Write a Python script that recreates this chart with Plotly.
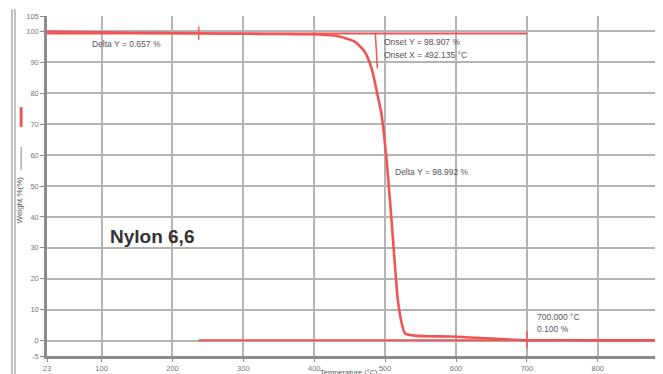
import plotly.graph_objects as go

# ---- data ----
temperature = [23, 60, 100, 150, 200, 237, 280, 330, 380, 407, 435, 457, 471, 481, 489,
               495, 502, 509, 518, 524, 528, 535, 542, 560, 591, 620, 648, 700, 760, 820, 892]
weight = [100.0, 99.8, 99.7, 99.6, 99.5, 99.4, 99.3, 99.2, 99.1, 99.0, 98.4, 96.7, 93.5, 88.0, 79.8,
          73.0, 58.6, 39.0, 13.0, 5.0, 2.3, 1.8, 1.6, 1.4, 1.3, 1.0, 0.65, 0.1, 0.08, 0.06, 0.05]

x_ticks = [23, 100, 200, 300, 400, 500, 600, 700, 800]
y_ticks = [-5, 0, 10, 20, 30, 40, 50, 60, 70, 80, 90, 100, 105]

# analysis markers (step limits / onset)
step1_end = 237
step2_end = 700
upper_level = 99.35
lower_level = 0.1
onset_x = 492.135
onset_y = 98.907

RED = "rgb(240,85,85)"
GRID = "#b4b4b4"
TXT = "#555555"
FONT = "Liberation Sans, Arial, sans-serif"

fig = go.Figure()
fig.add_trace(go.Scatter(x=temperature, y=weight, mode="lines",
                         line=dict(color=RED, width=2.6, shape="spline", smoothing=0.6),
                         hoverinfo="skip", showlegend=False))

shapes = [
    dict(type="line", xref="x", yref="y", x0=23, x1=step2_end, y0=upper_level, y1=upper_level,
         line=dict(color=RED, width=2)),
    dict(type="line", xref="x", yref="y", x0=step1_end, x1=892, y0=lower_level, y1=lower_level,
         line=dict(color=RED, width=2)),
    dict(type="line", xref="x", yref="y", x0=step1_end, x1=step1_end, y0=97.3, y1=101.6,
         line=dict(color=RED, width=1.5)),
    dict(type="line", xref="x", yref="y", x0=step2_end, x1=step2_end, y0=-2.5, y1=3.0,
         line=dict(color=RED, width=1.5)),
    dict(type="line", xref="x", yref="y", x0=onset_x - 6, x1=onset_x - 3, y0=upper_level, y1=88,
         line=dict(color=RED, width=1.5)),
    dict(type="line", xref="paper", yref="paper", x0=-0.042, x1=-0.042, y0=0.674, y1=0.732,
         line=dict(color=RED, width=3)),
    dict(type="line", xref="paper", yref="paper", x0=-0.042, x1=-0.042, y0=0.547, y1=0.615,
         line=dict(color="#888888", width=1)),
    dict(type="line", xref="paper", yref="paper", x0=-0.0568, x1=-0.0568, y0=-0.06, y1=1.02,
         line=dict(color="#9a9a9a", width=1.2)),
    dict(type="line", xref="paper", yref="paper", x0=-0.052, x1=-0.052, y0=-0.06, y1=1.02,
         line=dict(color="#9a9a9a", width=1.2)),
]

annotations = [
    dict(x=84, y=95.9, xref="x", yref="y", text="Delta Y = 0.657 %", showarrow=False,
         xanchor="left", yanchor="middle", font=dict(size=8.5, color=TXT, family=FONT)),
    dict(x=495.5, y=96.6, xref="x", yref="y", text="Onset Y = 98.907 %", showarrow=False,
         xanchor="left", yanchor="middle", font=dict(size=8.5, color=TXT, family=FONT)),
    dict(x=495.5, y=92.4, xref="x", yref="y", text="Onset X = 492.135 °C", showarrow=False,
         xanchor="left", yanchor="middle", font=dict(size=8.5, color=TXT, family=FONT)),
    dict(x=511, y=54.5, xref="x", yref="y", text="Delta Y = 98.992 %", showarrow=False,
         xanchor="left", yanchor="middle", font=dict(size=8.5, color=TXT, family=FONT)),
    dict(x=711, y=7.6, xref="x", yref="y", text="700.000 °C", showarrow=False,
         xanchor="left", yanchor="middle", font=dict(size=8.5, color=TXT, family=FONT)),
    dict(x=711, y=3.7, xref="x", yref="y", text="0.100 %", showarrow=False,
         xanchor="left", yanchor="middle", font=dict(size=8.5, color=TXT, family=FONT)),
    dict(x=109, y=33.8, xref="x", yref="y", text="<b>Nylon 6,6</b>", showarrow=False,
         xanchor="left", yanchor="middle", font=dict(size=19, color="#333333", family=FONT)),
    dict(x=-0.044, y=0.46, xref="paper", yref="paper", text="Weight %(%)", showarrow=False,
         textangle=-90, xanchor="center", yanchor="middle",
         font=dict(size=8, color=TXT, family=FONT)),
    dict(x=0.49, y=-0.03, xref="paper", yref="paper", text="Temperature (°C)", showarrow=False,
         xanchor="center", yanchor="top", font=dict(size=7.5, color=TXT, family=FONT)),
]

# page body has an 8px default margin, so the figure is sized to fit the window
fig.update_layout(
    width=655, height=366,
    margin=dict(l=39, r=0, t=8, b=18),
    paper_bgcolor="white", plot_bgcolor="white",
    shapes=shapes, annotations=annotations,
    showlegend=False,
    font=dict(family=FONT, size=7.5, color="#666666"),
)
fig.update_xaxes(range=[23, 892], tickvals=x_ticks, ticktext=[str(v) for v in x_ticks],
                 showgrid=True, gridcolor=GRID, gridwidth=1.5,
                 showline=True, linecolor="#8c8c8c", linewidth=2.5,
                 ticks="outside", ticklen=3, tickcolor="#8c8c8c", zeroline=False,
                 automargin=False, tickfont=dict(size=7.5, color="#777777"))
fig.update_yaxes(range=[-5, 105], tickvals=y_ticks, ticktext=[str(v) for v in y_ticks],
                 showgrid=True, gridcolor=GRID, gridwidth=1.5,
                 showline=True, linecolor="#8c8c8c", linewidth=2.5,
                 ticks="outside", ticklen=4, tickcolor="#8c8c8c", zeroline=False,
                 automargin=False, tickfont=dict(size=7.5, color="#777777"))

fig.write_html("out.html")
